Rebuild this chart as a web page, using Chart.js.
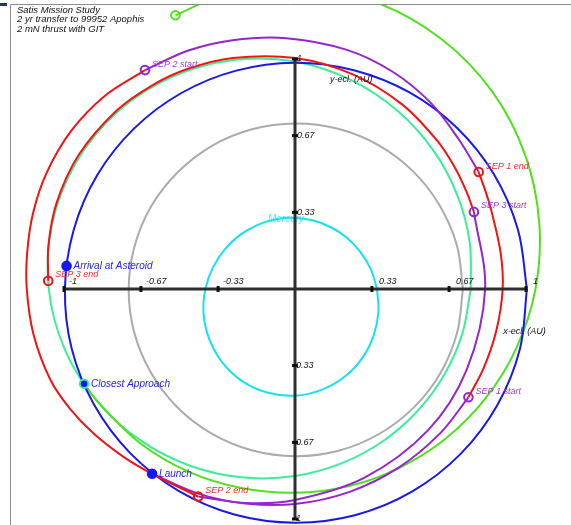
<!DOCTYPE html>
<html>
<head>
<meta charset="utf-8">
<script src="https://cdn.jsdelivr.net/npm/chart.js@4.4.1/dist/chart.umd.min.js"></script>
<style>
  html, body { margin: 0; padding: 0; background: #ffffff; }
  #wrap { position: relative; width: 571px; height: 525px; }
</style>
</head>
<body>
<div id="wrap"><canvas id="c" width="571" height="525"></canvas></div>
<script>
// ---- Planet / asteroid orbits: heliocentric radius (AU) every 15 deg of ecliptic longitude
const orbitAngles = [0, 15, 30, 45, 60, 75, 90, 105, 120, 135, 150, 165, 180, 195, 210, 225, 240, 255, 270, 285, 300, 315, 330, 345];
const mercuryAU = [0.355, 0.339, 0.325, 0.316, 0.310, 0.308, 0.309, 0.314, 0.322, 0.334, 0.349, 0.367, 0.388, 0.410, 0.430, 0.448, 0.461, 0.466, 0.464, 0.453, 0.437, 0.417, 0.395, 0.374];
const venusAU   = [0.727, 0.726, 0.724, 0.723, 0.722, 0.721, 0.720, 0.719, 0.719, 0.718, 0.719, 0.719, 0.720, 0.721, 0.722, 0.724, 0.725, 0.726, 0.727, 0.728, 0.728, 0.728, 0.728, 0.727];
const earthAU   = [1.004, 0.999, 0.995, 0.991, 0.988, 0.985, 0.984, 0.983, 0.984, 0.986, 0.989, 0.992, 0.996, 1.001, 1.005, 1.009, 1.012, 1.015, 1.016, 1.017, 1.016, 1.014, 1.011, 1.008];
const apophisAU = [0.761, 0.783, 0.812, 0.849, 0.892, 0.940, 0.989, 1.031, 1.065, 1.088, 1.096, 1.089, 1.066, 1.030, 0.985, 0.937, 0.891, 0.849, 0.813, 0.784, 0.763, 0.750, 0.746, 0.750];

// Apophis after the Earth encounter (from closest approach to end of mission)
const apophisPostDeg = [204.3, 210, 225, 240, 255, 270, 285, 300, 315, 330, 345, 360, 375, 390, 405, 420, 435, 450, 465, 473.5];
const apophisPostAU  = [1.002, 0.984, 0.948, 0.918, 0.896, 0.886, 0.888, 0.899, 0.921, 0.952, 0.992, 1.041, 1.095, 1.153, 1.210, 1.259, 1.296, 1.313, 1.310, 1.298];

// ---- Spacecraft trajectory legs: [longitude deg, radius AU]
const coastLaunch = [[232.4, 1.014], [245, 0.983], [257, 0.957], [270, 0.935], [285, 0.913], [300, 0.897], [315, 0.888], [327.9, 0.886]];
const thrustSep1  = [[327.9, 0.886], [337, 0.886], [348, 0.890], [360, 0.899], [370, 0.904], [381.5, 0.915], [387, 0.927], [392.6, 0.944]];
const coastSep1   = [[32.6, 0.944], [42.5, 0.962], [54, 1.000], [66, 1.035], [78, 1.064], [92, 1.091], [104, 1.115], [114, 1.135], [124.3, 1.152]];
const thrustSep2  = [[124.3, 1.152], [134.3, 1.176], [144.6, 1.188], [154.9, 1.188], [163.8, 1.181], [172.4, 1.170], [180.2, 1.161], [190, 1.149], [200.5, 1.130], [208, 1.105], [215.7, 1.075], [224.5, 1.041], [232.4, 1.014], [245.1, 0.995]];
const coastSep2   = [[245.1, 0.995], [257, 0.955], [270, 0.917], [290, 0.874], [313, 0.842], [334.6, 0.822], [360, 0.823], [383.4, 0.844]];
const thrustSep3  = [[23.4, 0.844], [30, 0.855], [38, 0.872], [46.6, 0.892], [60, 0.927], [75, 0.966], [90, 1.004], [105, 1.040], [116, 1.064], [125, 1.080], [135, 1.095], [148, 1.103], [160, 1.098], [170, 1.084], [178.1, 1.069]];

// ---- Mission events
const eventNames = ['Launch', 'SEP 1 start', 'SEP 1 end', 'SEP 2 start', 'SEP 2 end', 'SEP 3 start', 'SEP 3 end', 'Closest Approach', 'Arrival at Asteroid', ''];
const eventKinds = ['earth', 'start', 'end', 'start', 'end', 'start', 'end', 'encounter', 'earth', 'post'];
const eventDeg   = [232.4, 327.9, 32.6, 124.3, 245.1, 23.4, 178.1, 204.3, 174.2, 113.5];
const eventAU    = [1.014, 0.886, 0.944, 1.152, 0.995, 0.844, 1.069, 1.002, 0.994, 1.298];

// ---- Axis ticks
const tickValues = [-1, -0.667, -0.333, 0.333, 0.667, 1];
const tickLabels = ['-1', '-0.67', '-0.33', '0.33', '0.67', '1'];

const titleLines = ['Satis Mission Study', '2 yr transfer to 99952 Apophis', '2 mN thrust with GIT'];

// colours
const C = {
  mercury: '#14e2f2', venus: '#ababab', earth: '#1818ee', apophis: '#3cee98',
  apophisPost: '#4fe01e', thrust: '#f41212', coast: '#9424d0'
};

function polar(deg, r) {
  const a = deg * Math.PI / 180;
  return { x: r * Math.cos(a), y: r * Math.sin(a) };
}
function closedOrbit(radii) {
  const pts = orbitAngles.map((d, i) => polar(d, radii[i]));
  pts.push(pts[0]);
  return pts;
}
function leg(pairs) { return pairs.map(p => polar(p[0], p[1])); }

function line(label, data, color) {
  return { label, data, showLine: true, borderColor: color, borderWidth: 2, pointRadius: 0,
           tension: 0.34, fill: false, borderJoinStyle: 'round' };
}

const markStroke = { earth: C.earth, start: C.coast, end: C.thrust, encounter: C.apophis, post: C.apophisPost };
const markFill = { earth: C.earth, start: 'rgba(0,0,0,0)', end: 'rgba(0,0,0,0)', encounter: C.earth, post: 'rgba(0,0,0,0)' };
const labelColor = { earth: '#2222f0', start: '#a238d8', end: '#f42a2a', encounter: '#2222f0', post: C.apophisPost };

const eventPoints = eventDeg.map((d, i) => polar(d, eventAU[i]));

// lower index = drawn on top
const datasets = [
  { label: 'Events', data: eventPoints, showLine: false, pointRadius: 4.3, pointBorderWidth: 2,
    pointBorderColor: eventKinds.map(k => markStroke[k]), pointBackgroundColor: eventKinds.map(k => markFill[k]) },
  line('SEP 3', leg(thrustSep3), C.thrust),
  line('SEP 2', leg(thrustSep2), C.thrust),
  line('SEP 1', leg(thrustSep1), C.thrust),
  line('Coast 3', leg(coastSep2), C.coast),
  line('Coast 2', leg(coastSep1), C.coast),
  line('Coast 1', leg(coastLaunch), C.coast),
  line('Earth', closedOrbit(earthAU), C.earth),
  line('Apophis after encounter', apophisPostDeg.map((d, i) => polar(d, apophisPostAU[i])), C.apophisPost),
  line('Apophis', closedOrbit(apophisAU), C.apophis),
  line('Venus', closedOrbit(venusAU), C.venus),
  line('Mercury', closedOrbit(mercuryAU), C.mercury)
];

const FONT = '"Liberation Sans", Arial, sans-serif';

const overlay = {
  id: 'overlay',
  beforeDatasetsDraw(chart) {
    const { ctx, scales: { x, y } } = chart;
    ctx.save();
    ctx.font = 'italic 10px ' + FONT;
    ctx.fillStyle = '#4fe8f6';
    ctx.textAlign = 'left';
    ctx.textBaseline = 'alphabetic';
    ctx.fillText('Mercury', x.getPixelForValue(-0.117), y.getPixelForValue(0.291));
    ctx.restore();
  },
  afterDatasetsDraw(chart) {
    const { ctx, scales: { x, y } } = chart;
    const x0 = x.getPixelForValue(0), y0 = y.getPixelForValue(0);
    ctx.save();
    // axes through the Sun
    ctx.strokeStyle = '#2e2e2e';
    ctx.lineWidth = 3;
    ctx.beginPath();
    ctx.moveTo(x.getPixelForValue(-1), y0);
    ctx.lineTo(x.getPixelForValue(1), y0);
    ctx.moveTo(x0, y.getPixelForValue(1));
    ctx.lineTo(x0, y.getPixelForValue(-1));
    ctx.stroke();
    // tick marks
    ctx.fillStyle = '#111';
    tickValues.forEach(v => {
      const px = x.getPixelForValue(v);
      ctx.fillRect(px - 1.5, y0 - 3, 3, 6);
      const py = y.getPixelForValue(v);
      ctx.fillRect(x0 - 3, py - 1.5, 6, 3);
    });
    // tick labels
    ctx.font = 'italic 9px ' + FONT;
    ctx.textAlign = 'left';
    tickValues.forEach((v, i) => {
      const neg = v < 0;
      ctx.textBaseline = 'alphabetic';
      ctx.fillText(tickLabels[i], x.getPixelForValue(v) + (neg ? 5 : 7), y0 - 4.5);
      ctx.textBaseline = 'middle';
      ctx.fillText(tickLabels[i], x0 + (neg ? -2 : 2), y.getPixelForValue(v));
    });
    // axis titles
    ctx.textBaseline = 'alphabetic';
    ctx.fillText('y-ecl. (AU)', x.getPixelForValue(0.1515), y.getPixelForValue(0.902));
    ctx.fillText('x-ecl. (AU)', x.getPixelForValue(0.9015), y.getPixelForValue(-0.1957));

    // event labels
    eventPoints.forEach((p, i) => {
      const name = eventNames[i];
      if (!name) return;
      const kind = eventKinds[i];
      const px = x.getPixelForValue(p.x), py = y.getPixelForValue(p.y);
      ctx.fillStyle = labelColor[kind];
      if (kind === 'earth' || kind === 'encounter') {
        ctx.font = 'italic 10px ' + FONT;
        ctx.textBaseline = 'middle';
        ctx.fillText(name, px + 7, py + 0.5);
      } else {
        ctx.font = 'italic 9px ' + FONT;
        ctx.textBaseline = 'alphabetic';
        ctx.fillText(name, px + 7, py - 3.5);
      }
    });
    ctx.restore();
  },
  afterDraw(chart) {
    const { ctx, chartArea: a } = chart;
    ctx.save();
    // plot frame (left and top edges)
    ctx.strokeStyle = '#8c8c8c';
    ctx.lineWidth = 1;
    ctx.beginPath();
    ctx.moveTo(a.left + 0.5, chart.height);
    ctx.lineTo(a.left + 0.5, a.top + 0.5);
    ctx.lineTo(chart.width, a.top + 0.5);
    ctx.stroke();
    ctx.fillStyle = '#1d3a58';
    ctx.fillRect(0, 3, 7, 3);
    // title block
    ctx.fillStyle = '#111';
    ctx.font = 'italic 9.5px ' + FONT;
    ctx.textAlign = 'left';
    ctx.textBaseline = 'alphabetic';
    titleLines.forEach((t, i) => ctx.fillText(t, 17, 12.5 + i * 9.8));
    ctx.restore();
  }
};

new Chart(document.getElementById('c'), {
  type: 'scatter',
  data: { datasets },
  options: {
    responsive: false,
    animation: false,
    devicePixelRatio: 1,
    layout: { autoPadding: false, padding: { left: 10, top: 4, right: 0, bottom: 0 } },
    scales: {
      x: { type: 'linear', min: -1.2338, max: 1.1948, display: false },
      y: { type: 'linear', min: -1.0261, max: 1.2391, display: false }
    },
    elements: { line: { capBezierPoints: false } },
    plugins: { legend: { display: false }, tooltip: { enabled: false } }
  },
  plugins: [overlay]
});
</script>
</body>
</html>
